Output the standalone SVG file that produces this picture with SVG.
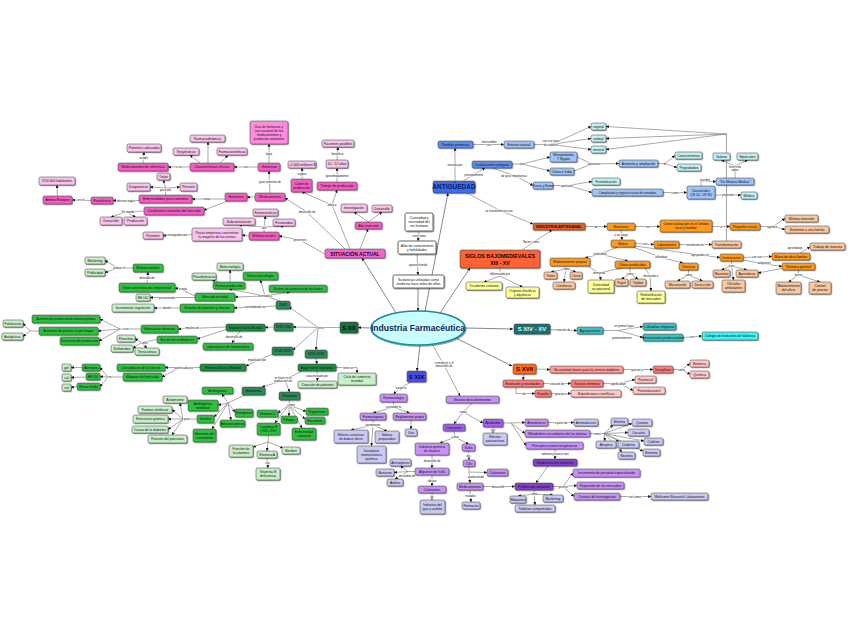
<svg xmlns="http://www.w3.org/2000/svg" width="848" height="638" viewBox="0 0 848 638">
<defs>
<filter id="sh" x="-20%" y="-30%" width="150%" height="180%"><feDropShadow dx="0.8" dy="0.9" stdDeviation="0.45" flood-color="#000" flood-opacity="0.45"/></filter>
<marker id="ar" viewBox="0 0 10 10" refX="9.5" refY="5" markerWidth="3" markerHeight="3" markerUnits="userSpaceOnUse" orient="auto"><path d="M0,0 L10,5 L0,10 z" fill="#111"/></marker>
<style>
rect{stroke:#3a3a3a;stroke-width:.5;filter:url(#sh)}
text{font-family:"Liberation Sans",Arial,sans-serif;text-anchor:middle;fill:#111}
.t{font-size:3.4px}
.ts{font-size:3.05px}
.m{font-weight:bold}
.lb{font-size:2.9px;fill:#111;stroke:#fff;stroke-width:1.1px;paint-order:stroke}
#connectors path{fill:none;stroke:#858585;stroke-width:.7}
#connectors path.a{marker-end:url(#ar)}
#connectors path.big{stroke:#7a7a7a;stroke-width:.9}
#connectors path.vt{stroke:#a8a8a8;stroke-width:1.1}
.b1{fill:#3e6de6}.b2{fill:#5b8ef4}.b3{fill:#9dc3f7}.cy{fill:#c2f0f0}
.or1{fill:#e4642a}.or{fill:#ff9a1a}.lo{fill:#f9c7a0}.ye{fill:#ffff99}.rd{fill:#ff6436}
.tl1{fill:#1f7070}.tl{fill:#3cc2c2}.cb{fill:#3ef5f5}
.so{fill:#ff6a10}.sa{fill:#ff9c9c}.sa2{fill:#ff7d7d}.pk{fill:#ffc9c9}
.sx{fill:#4a4ee6}.pu{fill:#c690f7}.dpu{fill:#a062ec}.vpu{fill:#8240cf}.lv{fill:#c9c9f3}
.g0{fill:#1d6e3e}.gm{fill:#2b8a55}.gd{fill:#1f8f46}.gb{fill:#2fbf3f}.gl{fill:#c8efc8}
.hp0{fill:#f266cf}.hp{fill:#f35cc2}.mp{fill:#ff8ade}.lp{fill:#f8c4ec}
.wh{fill:#fff;stroke:#555;stroke-width:.9}
</style>
</defs>
<rect x="0" y="0" width="848" height="638" fill="#fff" style="stroke:none;filter:none"/>

<g id="connectors">
<!-- main -->
<path class="a big" d="M425,311 L448,193"/>
<path class="a big" d="M440,313 L470,268"/>
<path class="a big" d="M465,328 L513,329"/>
<path class="a big" d="M456,338 L512,366"/>
<path class="a big" d="M420,345 L417,371"/>
<path class="a big" d="M371,328 L358,327.5"/>
<path class="a big" d="M396,313 L362,258"/>
<path class="a big" d="M418,288 L418,311"/>
<path class="a" d="M432,344 L444,365 L460,396"/>
<text class="lb" x="444" y="363.5">contribuyó a el</text><text class="lb" x="444" y="367">desarrollo de</text>
<!-- antiguedad -->
<path class="a" d="M455,181 L455,148"/><text class="lb" x="455" y="166">iniciada por</text>
<path class="a" d="M473,144.5 L504,144.5"/><text class="lb" x="489" y="142.5">intercambio</text><text class="lb" x="489" y="146">con</text>
<path d="M534,144.5 L551,144.5"/><path class="a" d="M551,144.5 L591,126.5"/><path class="a" d="M551,144.5 L591,138.5"/><path class="a" d="M551,144.5 L591,149.5"/>
<text class="lb" x="551" y="142">con sus tipos</text><text class="lb" x="551" y="145.5">de saberes</text>
<path class="a" d="M463,181 L485,168"/><text class="lb" x="474" y="175.5">principalmente</text>
<path d="M512,164 L522,164"/><path class="a" d="M522,164 L550,157"/><path class="a" d="M522,164 L550,171"/><text class="lb" x="522" y="165">como</text>
<path class="a" d="M492,168 L516,176 L533,185.5"/><text class="lb" x="514" y="177">de gran importancia</text>
<path d="M577,157 L592,164"/><path d="M574,171 L592,164"/><path class="a" d="M592,164 L619,163.5"/><text class="lb" x="594" y="165">aportaron</text>
<path d="M553,185.5 L568,185.5"/><path class="a" d="M568,185.5 L592,181.5"/><path class="a" d="M568,185.5 L592,192.5"/><text class="lb" x="567" y="186.5">aportaron</text>
<path d="M658,163.5 L665,163.5"/><path class="a" d="M665,163.5 L675,155.5"/><path class="a" d="M665,163.5 L677,167.5"/><text class="lb" x="665" y="164.5">de</text>
<path class="a" d="M663,192.5 L687,192.5"/><text class="lb" x="675" y="193.5">como</text>
<path class="a" d="M701,186 L701,181.5 L716,181.5"/><text class="lb" x="705" y="180.5">escribió</text>
<path class="a" d="M715,195 L741,195"/><text class="lb" x="728" y="196">profesión</text>
<path class="vt" d="M726.5,241 L726.5,134"/>
<path class="a" d="M726.5,134 L606,126.5"/><path class="a" d="M726.5,134 L606,138.5"/><path class="a" d="M726.5,134 L606,149.5"/>
<path d="M735,178 L735,166"/><path class="a" d="M735,166 L721.5,160"/><path class="a" d="M735,166 L747.5,160"/>
<text class="lb" x="735" y="167.5">fuente de</text><text class="lb" x="735" y="171">saber</text>
<!-- artesanal -->
<path class="a" d="M467,193 L499,210 L533,224"/><text class="lb" x="499" y="211.5">se transformó en una</text>
<path class="a" d="M585,226.5 L607,226.5"/><text class="lb" x="596" y="227.5">de</text>
<path class="a" d="M635,226.5 L660,226.5"/><text class="lb" x="648" y="227.5">en</text>
<path class="a" d="M712,226.5 L730,226.5"/><text class="lb" x="721" y="227.5">a</text>
<path d="M760,226.5 L773,226.5"/><path class="a" d="M773,226.5 L785,218.5"/><path class="a" d="M773,226.5 L785,229.5"/><text class="lb" x="772" y="227.5">significó</text>
<path class="a" d="M621,230 L622,240"/><text class="lb" x="621" y="236">a su cargo</text>
<path class="a" d="M635,243.5 L654,244.5"/><text class="lb" x="645" y="245">con</text>
<path class="a" d="M679,244.5 L712,244.5"/><text class="lb" x="695" y="245.5">transforma en</text>
<path class="a" d="M522,250 L552,230"/><text class="lb" x="531" y="243">Nacen como</text>
<path d="M618,247 L600,254"/><path class="a" d="M600,254 L585,258"/><path class="a" d="M600,254 L628,261"/><text class="lb" x="600" y="254.5">realizaban</text>
<path class="a" d="M633,247 L663,258 L683,263"/><text class="lb" x="661" y="258">utilizaban</text>
<path class="a" d="M635,246 L700,255 L720,257.5"/><text class="lb" x="700" y="255.5">agrupados en</text>
<path d="M566,266 L566,269"/><path class="a" d="M566,269 L551,272"/><path class="a" d="M566,269 L576,272"/><path class="a" d="M566,269 L564,282"/><text class="lb" x="566" y="269.8">como</text>
<path d="M588,266 L599,273"/><path d="M622,268 L599,273"/><path class="a" d="M599,273 L601,280"/><text class="lb" x="599" y="273.8">formando</text>
<path d="M630,268 L630,274"/><path class="a" d="M630,274 L621.5,279"/><path class="a" d="M630,274 L638,279"/><text class="lb" x="630" y="274.8">como</text>
<path class="a" d="M645,268 L650,276 L651,291"/><text class="lb" x="651" y="277">destinado a</text>
<path d="M688.5,270 L688.5,275"/><path class="a" d="M688.5,275 L677.5,281"/><path class="a" d="M688.5,275 L702.5,281"/><text class="lb" x="688.5" y="275.8">como</text>
<path class="a" d="M743,257.5 L772,256.5"/><text class="lb" x="757" y="258">con sus</text>
<path class="a" d="M800,253 L810,247"/><text class="lb" x="795" y="248.5">aprendizaje</text>
<path d="M731.5,261 L731.5,266"/><path class="a" d="M731.5,266 L721.5,270"/><path class="a" d="M731.5,266 L747,270"/><path class="a" d="M731.5,266 L733.5,280"/><text class="lb" x="731.5" y="266.8">eran</text>
<path class="a" d="M743,260 L765,264 L782,266.5"/><text class="lb" x="764" y="264">adoptaron</text>
<path class="a" d="M782,268.5 L758,273"/>
<path d="M798.5,270 L798.5,275"/><path class="a" d="M798.5,275 L788.5,282"/><path class="a" d="M798.5,275 L820,282"/><text class="lb" x="798.5" y="275.8">ejerce</text>
<path d="M500,268 L500,276"/><path class="a" d="M500,276 L484,282"/><path class="a" d="M500,276 L522.5,287"/><text class="lb" x="500" y="275">Influenciado por</text>
<!-- teal -->
<path class="a" d="M550,329.5 L577,330.5"/><text class="lb" x="563" y="331">creación de</text>
<path d="M603,330.5 L618,330.5"/><path class="a" d="M618,330.5 L643,326.5"/><path class="a" d="M618,330.5 L643,337.5"/>
<text class="lb" x="624" y="327">en primer lugar</text><text class="lb" x="622" y="339">posteriormente</text>
<path class="a" d="M683,337.5 L702,336"/><text class="lb" x="692" y="337.8">con</text>
<!-- S XVII -->
<path class="a" d="M536,369 L550,369.5"/>
<path class="a" d="M623,369.5 L653,369.5"/><text class="lb" x="637" y="370.5">gracias a</text>
<path d="M673,369.5 L682,369.5"/><path class="a" d="M682,369.5 L690,363.5"/><path class="a" d="M682,369.5 L690,374.5"/><text class="lb" x="681" y="370.5">como</text>
<path class="a" d="M524,374 L523,380"/>
<path class="a" d="M543,383.5 L571,383.5"/><text class="lb" x="557" y="384.5">creación de</text>
<path d="M603,383.5 L620,383.5"/><path class="a" d="M620,383.5 L635,379.5"/><path class="a" d="M620,383.5 L633,390.5"/><text class="lb" x="618" y="384.5">significaban</text>
<path class="a" d="M516,387 L516,393.5 L535,393.5"/><text class="lb" x="524" y="394.5">de</text>
<path class="a" d="M551,393.5 L571,393.5"/><text class="lb" x="561" y="394.5">gracias a</text>
<!-- S XIX -->
<path class="a" d="M411,382 L400,388 L393.5,394"/><text class="lb" x="401" y="388.5">surgió la</text>
<path d="M393.5,402 L393.5,407"/><path class="a" d="M393.5,407 L373,413"/><path class="a" d="M393.5,407 L409.5,413"/><text class="lb" x="393.5" y="407.8">consolidó la</text>
<path d="M373,420 L373,425"/><path class="a" d="M373,425 L351,430"/><path class="a" d="M373,425 L387,431"/><path class="a" d="M373,425 L371.5,446"/><text class="lb" x="373" y="425.8">permitieron</text>
<path class="a" d="M411,420 L411,429"/>
<path d="M472.5,403 L463,412"/><path class="a" d="M463,412 L454,424"/><path class="a" d="M463,412 L483,423"/><text class="lb" x="463" y="412.8">como</text>
<path class="a" d="M493,427 L493,433"/><text class="lb" x="493" y="431">con</text>
<path d="M454,431 L455,437"/><path class="a" d="M455,437 L440,443"/><path class="a" d="M455,437 L468.5,444"/><text class="lb" x="455" y="437.8">como</text>
<path class="a" d="M468.5,451 L469,460"/><text class="lb" x="468.5" y="456.5">dio</text>
<path class="a" d="M432,455 L432,468"/><text class="lb" x="432" y="462">desarrollo de</text>
<path d="M415,471.5 L408,471.5"/><path class="a" d="M408,471.5 L400.5,466"/><path class="a" d="M408,471.5 L394,472.5"/><path class="a" d="M408,471.5 L395,479"/><text class="lb" x="407" y="476.5">derivados de</text>
<path class="a" d="M432,475 L432,486"/><text class="lb" x="432" y="481.5">obtuvo</text>
<path class="a" d="M432,493 L432,500"/><text class="lb" x="432" y="497.5">de</text>
<path d="M469,466.5 L469,472"/><path class="a" d="M469,472 L487,472.5"/><path class="a" d="M469,472 L470,483"/><text class="lb" x="476" y="477.5">produciendo</text>
<path class="a" d="M470,490 L471,502"/><text class="lb" x="470.5" y="497">tratados</text>
<path class="a" d="M483,486.5 L515,486.5"/><text class="lb" x="498" y="487.5">desarrolló</text>
<path class="a" d="M555,449 L555,459"/><text class="lb" x="555" y="455">además provocó una</text>
<path class="a" d="M548,466 L536,483"/>
<path d="M534,490 L534,494"/><path class="a" d="M534,494 L518,496"/><path class="a" d="M534,494 L553,495"/><path class="a" d="M534,494 L535,505"/><text class="lb" x="534" y="494.8">como</text>
<path d="M553,486.5 L563,486.5"/><path class="a" d="M563,486.5 L573,473"/><path class="a" d="M563,486.5 L577,485.5"/><path class="a" d="M563,486.5 L574,496.5"/><text class="lb" x="563" y="487.5">generó</text>
<path class="a" d="M620,496.5 L651,496.5"/><text class="lb" x="635" y="497.5">así como</text>
<path d="M503,423 L511,423"/><path class="a" d="M511,423 L525,422.5"/><path class="a" d="M511,423 L525,433.5"/><path class="a" d="M511,423 L526,445.5"/>
<path class="a" d="M548,422.5 L574,422.5"/><text class="lb" x="561" y="423.5">a partir de</text>
<path d="M590,433.5 L604,433.5"/>
<path class="a" d="M604,433.5 L613,425"/><path class="a" d="M604,433.5 L632,423.5"/><path class="a" d="M604,433.5 L628,432.5"/><path class="a" d="M604,433.5 L644,441"/><path class="a" d="M604,433.5 L605,441"/><path class="a" d="M604,433.5 L619,441.5"/><path class="a" d="M604,433.5 L643,451"/><path class="a" d="M604,433.5 L622,452"/>
<text class="lb" x="597" y="434.5">como</text>
<!-- S XX -->
<path d="M340,327.5 L318,327.5"/><path class="a" d="M318,327.5 L289,307"/><path class="a" d="M318,327.5 L293,327"/><path class="a" d="M318,327.5 L293,350"/><path class="a" d="M318,327.5 L316,350"/><text class="lb" x="321" y="328.5">entre</text>
<path d="M280,301 L265,296"/><path class="a" d="M265,296 L235,297"/><path class="a" d="M265,296 L229,289"/><path class="a" d="M265,296 L260.5,280"/><path class="a" d="M265,296 L290,292"/><text class="lb" x="265" y="297">orientado a</text>
<path class="a" d="M276,306 L234,308"/><text class="lb" x="255" y="308">consolidando así</text>
<path class="a" d="M274,327 L265,327.5"/>
<path class="a" d="M240,331 L232,343"/><text class="lb" x="234" y="337.5">desarrollo de</text>
<path class="a" d="M226,327 L178,329"/><text class="lb" x="192" y="329">impulso de</text>
<path class="a" d="M226,329.5 L197,339"/>
<path d="M141,329 L120,329"/><path class="a" d="M120,329 L100,319"/><path class="a" d="M120,329 L98,331"/><path class="a" d="M120,329 L99,341"/><text class="lb" x="126" y="330">tuvo</text>
<path d="M39,331 L30,331"/><path class="a" d="M30,331 L23,323.5"/><path class="a" d="M30,331 L23,336.5"/>
<path d="M157,339.5 L141,342.5"/><path class="a" d="M141,342.5 L135,338.5"/><path class="a" d="M141,342.5 L133,348.5"/><path class="a" d="M141,342.5 L147,348"/><text class="lb" x="144" y="343.5">como</text>
<path d="M133,268 L118,268"/><path class="a" d="M118,268 L105,260.5"/><path class="a" d="M118,268 L105,272.5"/><text class="lb" x="119" y="269">utilizan el</text>
<path class="a" d="M147,283 L148,272"/><text class="lb" x="147" y="279">derivado de</text>
<path class="a" d="M195,296 L180,289 L175,288"/><text class="lb" x="183" y="290">surgió</text>
<path class="a" d="M195,297.5 L150,297.5"/><text class="lb" x="167" y="298.5">presentando</text>
<path class="a" d="M180,308 L154,308"/><text class="lb" x="167" y="309">dando</text>
<path class="a" d="M230,282 L230,270"/>
<path class="a" d="M219,282 L212,280"/>
<path class="a" d="M273,354 L254,362 L246,366"/><text class="lb" x="257" y="360.5">impulsado por</text>
<path d="M200,367.5 L180,367.5"/><path class="a" d="M180,367.5 L165,367.5"/><path class="a" d="M180,367.5 L162,377"/><text class="lb" x="184" y="368.5">potenciada por</text>
<path d="M123,377 L108,377"/><path class="a" d="M108,377 L100,367.5"/><path class="a" d="M108,377 L100,376.5"/><path class="a" d="M108,377 L100,386.5"/><text class="lb" x="110" y="378">en</text>
<path class="a" d="M82,367.5 L71,367.5"/><path class="a" d="M86,377 L71,377.5"/><path class="a" d="M77,386.5 L71,387.5"/>
<path class="a" d="M316,358 L317,364"/>
<path class="a" d="M336,367.5 L357,367.5 L357,373"/><text class="lb" x="348" y="368.5">tiene un</text>
<path class="a" d="M317,371 L317.5,381"/><text class="lb" x="317" y="377">caracterizado por</text>
<path d="M302,371 L285,380"/><path class="a" d="M285,380 L262,387"/><path class="a" d="M285,380 L289.5,392"/><text class="lb" x="283" y="378.5">se basó en la</text><text class="lb" x="283" y="382">producción de</text>
<path d="M245,395 L228,403"/><path class="a" d="M228,403 L222,394"/><path class="a" d="M228,403 L218,405"/><path class="a" d="M228,403 L214,417"/><path class="a" d="M228,403 L212,429"/><path class="a" d="M228,403 L235,412"/><path class="a" d="M228,403 L231,420"/>
<path d="M197,419 L183,419"/><path class="a" d="M183,419 L180,403"/><path class="a" d="M183,419 L172,409.5"/><path class="a" d="M183,419 L168,419"/><path class="a" d="M183,419 L168,429.5"/><path class="a" d="M183,419 L172,435"/><text class="lb" x="187" y="420">para</text>
<path d="M289.5,400 L289,405"/><path class="a" d="M289,405 L278,413"/><path class="a" d="M289,405 L289,416"/><path class="a" d="M289,405 L306,411.5"/><path class="a" d="M289,405 L305,419"/><path class="a" d="M289,405 L302,428"/><path class="a" d="M289,405 L275,423"/><text class="lb" x="291" y="406">como</text>
<path d="M268.5,435 L268,442"/><path class="a" d="M268,442 L253,447"/><path class="a" d="M268,442 L267,451"/><path class="a" d="M268,442 L283,448"/>
<path class="a" d="M267,458 L268,468"/><text class="lb" x="267.5" y="464">sus</text>
<!-- situacion actual -->
<path class="a" d="M345,249 L307,212 L285,198"/><text class="lb" x="307" y="212.5">desarrollo de</text>
<path class="a" d="M270,193 L269,171"/><text class="lb" x="270" y="183">gran aumento de</text>
<path class="a" d="M269,163 L269,144"/><text class="lb" x="269" y="154.5">logra</text>
<path class="a" d="M258,167 L234,167"/><text class="lb" x="246" y="168">con</text>
<path class="a" d="M208,163 L208,142"/><path class="a" d="M200,163 L190,155"/><path class="a" d="M220,163 L228,155.5"/>
<path class="a" d="M190,167 L168,167"/><text class="lb" x="179" y="168">a su</text>
<path class="a" d="M143,163 L144,152"/><text class="lb" x="143.5" y="158.5">surtido</text>
<path class="a" d="M255,197 L247,197"/>
<path class="a" d="M225,199 L192,199"/><text class="lb" x="207" y="200">tratan</text>
<path d="M165.5,195 L165.5,188"/><path class="a" d="M165.5,188 L163.5,180"/><path class="a" d="M165.5,188 L150,187"/><path class="a" d="M165.5,188 L180,187"/><text class="lb" x="165.5" y="191">para ello</text>
<path class="a" d="M139,200.5 L113,200.5"/><text class="lb" x="126" y="201.5">afectan según</text>
<path class="a" d="M91,200.5 L72,200"/><text class="lb" x="81" y="201.2">en el</text>
<path class="a" d="M57.5,196 L57,185"/>
<path class="a" d="M228,201 L204,210"/>
<path d="M144,211 L126,212"/><path class="a" d="M126,212 L111,217"/><path class="a" d="M126,212 L135.5,217"/><text class="lb" x="128" y="212.5">Se impide</text>
<path class="a" d="M325,254 L300,240 L279,236"/><text class="lb" x="300" y="240.5">presentes</text>
<path d="M264,232 L264,227"/><path class="a" d="M264,227 L265.5,216"/><path class="a" d="M264,227 L239,225"/><path class="a" d="M264,227 L284,226"/><text class="lb" x="264" y="229">son</text>
<path class="a" d="M249,236 L242,235"/>
<path class="a" d="M192,234.5 L163,235.5"/><text class="lb" x="177" y="235.5">conseguidas por</text>
<path class="a" d="M302,179 L302,168"/><text class="lb" x="302" y="174.5">supera</text>
<path class="a" d="M337,182 L337,168"/><text class="lb" x="337" y="176.5">aproximadamente</text>
<path class="a" d="M337,160 L338,147"/><text class="lb" x="337.5" y="154.5">beneficia</text>
<path d="M350,249 L332,205"/><path class="a" d="M332,205 L302,192"/><path class="a" d="M332,205 L337,190"/><text class="lb" x="332" y="206">abarca</text>
<path class="a" d="M360,249 L368,229"/>
<path class="a" d="M368.5,222 L354,212"/><path class="a" d="M368.5,222 L382,212"/>
<!-- gray -->
<path class="a" d="M419,231 L418,241"/><text class="lb" x="419" y="237">tuvo como</text>
<path class="a" d="M417,254 L418,275"/><text class="lb" x="418" y="266">aprovechando</text>
</g>

<g id="center"><ellipse cx="418" cy="328" rx="47" ry="17" fill="#c8ffff" stroke="#1b8c9c" stroke-width="1.6" filter="url(#sh)"/><text x="418" y="331" style="font-size:8.6px;font-weight:bold;fill:#1a2457">Industria Farmacéutica</text></g>

<g id="k1"><rect class="wh" x="405" y="213" width="28" height="18" rx="1.5"/><text class="t" x="419" y="219.3">Curiosidad y</text><text class="t" x="419" y="223.2">necesidad del</text><text class="t" x="419" y="227.1">ser humano</text></g>
<g id="k2"><rect class="wh" x="398" y="241" width="38" height="13" rx="1.5"/><text class="t" x="417" y="246.8">Afán de conocimiento</text><text class="t" x="417" y="250.7">y habilidades</text></g>
<g id="k3"><rect class="wh" x="393" y="275" width="51" height="13" rx="1.5"/><text class="t" x="418.5" y="280.8">Sustancias utilizadas como</text><text class="t" x="418.5" y="284.7">medicina hace miles de años</text></g>

<g id="a0"><rect class="b1" x="433" y="181" width="42" height="12" rx="1.8"/><text x="454" y="189.3" class="m" style="font-size:6.5px;fill:#0b1a66">ANTIGÜEDAD</text></g>
<g id="a1"><rect class="b2" x="438" y="141" width="35" height="7" rx="1.5"/><text class="t" x="455.5" y="145.8">Pueblos primitivos</text></g>
<g id="a2"><rect class="b3" x="504" y="141" width="30" height="7" rx="1.5"/><text class="t" x="519" y="145.8">Entorno natural</text></g>
<g id="a3"><rect class="cy" x="591" y="123" width="15" height="7" rx="1.5"/><text class="t" x="598.5" y="127.8">vegetal</text></g>
<g id="a4"><rect class="cy" x="591" y="135" width="15" height="7" rx="1.5"/><text class="t" x="598.5" y="139.8">animal</text></g>
<g id="a5"><rect class="cy" x="591" y="146" width="15" height="7" rx="1.5"/><text class="t" x="598.5" y="150.8">mineral</text></g>
<g id="a6"><rect class="b2" x="472" y="161" width="40" height="7" rx="1.5"/><text class="t" x="492" y="165.8">Civilizaciones antiguas</text></g>
<g id="a7"><rect class="b3" x="550" y="152" width="27" height="10" rx="1.5"/><text class="t" x="563.5" y="156.2">Mesopotamia</text><text class="t" x="563.5" y="160.1">Y Egipto</text></g>
<g id="a8"><rect class="b3" x="550" y="168" width="24" height="7" rx="1.5"/><text class="t" x="562" y="172.8">China e India</text></g>
<g id="a9"><rect class="b3" x="533" y="182" width="20" height="7" rx="1.5"/><text class="ts" x="543" y="186.7">Grecia y Roma</text></g>
<g id="a10"><rect class="b3" x="619" y="160" width="39" height="7" rx="1.5"/><text class="t" x="638.5" y="164.8">Aumento y ampliación</text></g>
<g id="a11"><rect class="cy" x="675" y="152" width="27" height="7" rx="1.5"/><text class="t" x="688.5" y="156.8">Conocimientos</text></g>
<g id="a12"><rect class="cy" x="677" y="164" width="24" height="7" rx="1.5"/><text class="t" x="689" y="168.8">Propiedades</text></g>
<g id="a13"><rect class="cy" x="592" y="178" width="28" height="7" rx="1.5"/><text class="t" x="606" y="182.8">Formalización</text></g>
<g id="a14"><rect class="b3" x="592" y="189" width="71" height="7" rx="1.5"/><text class="ts" x="627.5" y="193.7">Compilación y registro escrito de remedios</text></g>
<g id="a15"><rect class="b3" x="687" y="186" width="28" height="13" rx="1.5"/><text class="t" x="701" y="191.8">Dioscórides</text><text class="ts" x="701" y="195.7">(CE 40 - CE 90)</text></g>
<g id="a16"><rect class="b3" x="716" y="178" width="38" height="7" rx="1.5"/><text class="t" x="735" y="182.8">“De Materia Médica”</text></g>
<g id="a17"><rect class="cy" x="741" y="192" width="16" height="7" rx="1.5"/><text class="t" x="749" y="196.8">Médico</text></g>
<g id="a18"><rect class="cy" x="713" y="153" width="17" height="7" rx="1.5"/><text class="t" x="721.5" y="157.8">Galeno</text></g>
<g id="a19"><rect class="cy" x="737" y="153" width="21" height="7" rx="1.5"/><text class="t" x="747.5" y="157.8">Hipócrates</text></g>

<g id="b0"><rect class="or1" x="533" y="223" width="52" height="7" rx="1.2"/><text class="m" x="559" y="228.1" style="font-size:3.9px;fill:#2a0500">INDUSTRIA ARTESANAL</text></g>
<g id="b1"><rect class="or" x="607" y="223" width="28" height="7" rx="1.5"/><text class="t" x="621" y="227.8">Boticarios</text></g>
<g id="b2"><rect class="or" x="660" y="220" width="52" height="12" rx="1.5"/><text class="t" x="686" y="225.2">Comercialización en el ámbito</text><text class="t" x="686" y="229.1">local y familiar</text></g>
<g id="b3"><rect class="or" x="730" y="223" width="30" height="7" rx="1.5"/><text class="t" x="745" y="227.8">Pequeña escala</text></g>
<g id="b4"><rect class="lo" x="785" y="215" width="33" height="7" rx="1.5"/><text class="t" x="801.5" y="219.8">Mínima inversión</text></g>
<g id="b5"><rect class="lo" x="785" y="226" width="44" height="7" rx="1.5"/><text class="t" x="807" y="230.8">Sustentar a una familia</text></g>
<g id="b6"><rect class="or" x="611" y="240" width="24" height="7" rx="1.5"/><text class="t" x="623" y="244.8">Botica</text></g>
<g id="b7"><rect class="or" x="654" y="241" width="25" height="7" rx="1.5"/><text class="t" x="666.5" y="245.8">Laboratorios</text></g>
<g id="b8"><rect class="lo" x="712" y="241" width="29" height="7" rx="1.5"/><text class="t" x="726.5" y="245.8">Transformación</text></g>
<g id="b9"><rect class="or" x="550" y="258" width="40" height="8" rx="1.5"/><text class="t" x="570" y="263.3">Elaboraciones propias</text></g>
<g id="b10"><rect class="or" x="615" y="261" width="35" height="7" rx="1.5"/><text class="t" x="632.5" y="265.8">Obras producidas</text></g>
<g id="b11"><rect class="lo" x="544" y="272" width="13" height="7" rx="1.5"/><text class="t" x="550.5" y="276.8">Tintes</text></g>
<g id="b12"><rect class="lo" x="570" y="272" width="12" height="7" rx="1.5"/><text class="t" x="576" y="276.8">Ceras</text></g>
<g id="b13"><rect class="lo" x="553" y="282" width="22" height="7" rx="1.5"/><text class="t" x="564" y="286.8">Confituras</text></g>
<g id="b14"><rect class="ye" x="588" y="280" width="26" height="13" rx="1.5"/><text class="t" x="601" y="285.8">Diversidad</text><text class="t" x="601" y="289.7">ocupacional</text></g>
<g id="b15"><rect class="lo" x="615" y="279" width="13" height="7" rx="1.5"/><text class="t" x="621.5" y="283.8">Papel</text></g>
<g id="b16"><rect class="lo" x="630" y="279" width="16" height="7" rx="1.5"/><text class="t" x="638" y="283.8">Tejidos</text></g>
<g id="b17"><rect class="ye" x="637" y="291" width="28" height="12" rx="1.5"/><text class="t" x="651" y="296.2">Redistribución</text><text class="t" x="651" y="300.1">de mercados</text></g>
<g id="b18"><rect class="or" x="679" y="263" width="19" height="7" rx="1.5"/><text class="t" x="688.5" y="267.8">Técnicas</text></g>
<g id="b19"><rect class="lo" x="665" y="281" width="25" height="7" rx="1.5"/><text class="t" x="677.5" y="285.8">Maceración</text></g>
<g id="b20"><rect class="lo" x="692" y="281" width="21" height="7" rx="1.5"/><text class="t" x="702.5" y="285.8">Decocción</text></g>
<g id="b21"><rect class="or" x="720" y="254" width="23" height="7" rx="1.5"/><text class="t" x="731.5" y="258.8">Instituciones</text></g>
<g id="b22"><rect class="or" x="772" y="253" width="38" height="7" rx="1.5"/><text class="t" x="791" y="257.8">Mano de obra familiar</text></g>
<g id="b23"><rect class="lo" x="810" y="243" width="35" height="7" rx="1.5"/><text class="t" x="827.5" y="247.8">Trabajo de maestro</text></g>
<g id="b24"><rect class="lo" x="713" y="270" width="17" height="7" rx="1.5"/><text class="t" x="721.5" y="274.8">Maestros</text></g>
<g id="b25"><rect class="lo" x="736" y="270" width="22" height="7" rx="1.5"/><text class="t" x="747" y="274.8">Aprendices</text></g>
<g id="b26"><rect class="lo" x="722" y="280" width="23" height="12" rx="1.5"/><text class="t" x="733.5" y="285.2">Oficiales</text><text class="t" x="733.5" y="289.1">ambulantes</text></g>
<g id="b27"><rect class="or" x="782" y="263" width="33" height="7" rx="1.5"/><text class="t" x="798.5" y="267.8">“Sistema gremial”</text></g>
<g id="b28"><rect class="lo" x="776" y="282" width="25" height="12" rx="1.5"/><text class="t" x="788.5" y="287.2">Mantenimiento</text><text class="t" x="788.5" y="291.1">del oficio</text></g>
<g id="b29"><rect class="lo" x="809" y="282" width="22" height="12" rx="1.5"/><text class="t" x="820" y="287.2">Control</text><text class="t" x="820" y="291.1">de precios</text></g>

<g id="c0"><rect class="rd" x="460" y="250" width="80" height="18" rx="1.5"/><text class="m" x="500" y="257.6" style="font-size:5.3px;fill:#220000">SIGLOS BAJOMEDIEVALES</text><text class="m" x="500" y="264.6" style="font-size:5.3px;fill:#220000">XIII - XV</text></g>
<g id="c1"><rect class="ye" x="466" y="282" width="36" height="8" rx="1.5"/><text class="t" x="484" y="287.3">Occidente cristiano</text></g>
<g id="c2"><rect class="ye" x="506" y="287" width="33" height="11" rx="1.5"/><text class="ts" x="522.5" y="291.7">Orígenes filosóficos</text><text class="ts" x="522.5" y="295.5">y alquímicos</text></g>

<g id="d0"><rect class="tl1" x="514" y="324" width="36" height="10" rx="1.5"/><text class="m" x="532" y="331.2" style="font-size:6px;fill:#d8ffff">S XIV - XV</text></g>
<g id="d1"><rect class="tl" x="577" y="327" width="26" height="7" rx="1.5"/><text class="t" x="590" y="331.8">Agrupaciones</text></g>
<g id="d2"><rect class="tl" x="643" y="323" width="33" height="7" rx="1.5"/><text class="t" x="659.5" y="327.8">Cofradías religiosas</text></g>
<g id="d3"><rect class="tl" x="643" y="334" width="40" height="7" rx="1.5"/><text class="t" x="663" y="338.8">Asociaciones profesionales</text></g>
<g id="d4"><rect class="cb" x="702" y="332" width="56" height="8" rx="1.5"/><text class="t" x="730" y="337.3">Colegio de boticarios de Valencia</text></g>

<g id="e0"><rect class="so" x="513" y="364" width="23" height="10" rx="1.5"/><text class="m" x="524.5" y="371.2" style="font-size:6px;fill:#200">S XVII</text></g>
<g id="e1"><rect class="sa" x="550" y="366" width="73" height="7" rx="1.5"/><text class="t" x="586.5" y="370.8">Se asientan bases para la ciencia moderna</text></g>
<g id="e2"><rect class="sa2" x="653" y="366" width="20" height="7" rx="1.5"/><text class="t" x="663" y="370.8">Disciplinas</text></g>
<g id="e3"><rect class="pk" x="690" y="360" width="19" height="7" rx="1.5"/><text class="t" x="699.5" y="364.8">Botánica</text></g>
<g id="e4"><rect class="pk" x="690" y="371" width="19" height="7" rx="1.5"/><text class="t" x="699.5" y="375.8">Química</text></g>
<g id="e5"><rect class="sa2" x="503" y="380" width="40" height="7" rx="1.5"/><text class="t" x="523" y="384.8">Evolución y novedades</text></g>
<g id="e6"><rect class="sa2" x="571" y="380" width="32" height="7" rx="1.5"/><text class="t" x="587" y="384.8">Nuevos términos</text></g>
<g id="e7"><rect class="pk" x="635" y="376" width="21" height="7" rx="1.5"/><text class="t" x="645.5" y="380.8">“Farmacia”</text></g>
<g id="e8"><rect class="pk" x="633" y="387" width="32" height="7" rx="1.5"/><text class="t" x="649" y="391.8">“Formulaciones”</text></g>
<g id="e9"><rect class="sa2" x="535" y="390" width="16" height="7" rx="1.5"/><text class="t" x="543" y="394.8">España</text></g>
<g id="e10"><rect class="pk" x="571" y="390" width="50" height="7" rx="1.5"/><text class="t" x="596" y="394.8">Expediciones científicas</text></g>

<g id="f0"><rect class="sx" x="407" y="371" width="19" height="11" rx="1.5"/><text class="m" x="416.5" y="378.6" style="font-size:6px;fill:#06063a">S XIX</text></g>
<g id="f1"><rect class="pu" x="380" y="394" width="27" height="8" rx="1.5"/><text class="t" x="393.5" y="399.3">Farmacología</text></g>
<g id="f2"><rect class="pu" x="360" y="413" width="26" height="7" rx="1.5"/><text class="t" x="373" y="417.8">Farmacopeas</text></g>
<g id="f3"><rect class="pu" x="393" y="413" width="33" height="7" rx="1.5"/><text class="t" x="409.5" y="417.8">Reglamento propio</text></g>
<g id="f4"><rect class="lv" x="334" y="430" width="34" height="13" rx="1.5"/><text class="ts" x="351" y="435.7">Eliminar sustancias</text><text class="ts" x="351" y="439.5">de dudoso efecto</text></g>
<g id="f5"><rect class="lv" x="375" y="431" width="24" height="12" rx="1.5"/><text class="t" x="387" y="436.2">Valorar</text><text class="t" x="387" y="440.1">preparados</text></g>
<g id="f6"><rect class="lv" x="357" y="446" width="29" height="17" rx="1.5"/><text class="t" x="371.5" y="451.8">Incorporar</text><text class="t" x="371.5" y="455.7">nomenclatura</text><text class="t" x="371.5" y="459.6">química</text></g>
<g id="f7"><rect class="lv" x="405" y="429" width="12" height="7" rx="1.5"/><text class="t" x="411" y="433.8">Uso</text></g>
<g id="f8"><rect class="pu" x="446" y="396" width="53" height="7" rx="1.5"/><text class="t" x="472.5" y="400.8">Nuevos descubrimientos</text></g>
<g id="f9"><rect class="dpu" x="443" y="424" width="22" height="7" rx="1.5"/><text class="t" x="454" y="428.8">Colorantes</text></g>
<g id="f10"><rect class="dpu" x="483" y="419" width="20" height="8" rx="1.5"/><text class="t" x="493" y="424.3">Alcaloides</text></g>
<g id="f11"><rect class="lv" x="483" y="433" width="24" height="12" rx="1.5"/><text class="t" x="495" y="438.2">Efectos</text><text class="t" x="495" y="442.1">psicoactivos</text></g>
<g id="f12"><rect class="pu" x="415" y="443" width="34" height="12" rx="1.5"/><text class="t" x="432" y="448.2">Industria química</text><text class="t" x="432" y="452.1">de alcance</text></g>
<g id="f13"><rect class="pu" x="462" y="444" width="13" height="7" rx="1.5"/><text class="t" x="468.5" y="448.8">Sulfa</text></g>
<g id="f14"><rect class="pu" x="463" y="460" width="12" height="6.5" rx="1.5"/><text class="t" x="469" y="464.5">Clin</text></g>
<g id="f15"><rect class="pu" x="415" y="468" width="34" height="7" rx="1.5"/><text class="t" x="432" y="472.8">Alquitrán de hulla</text></g>
<g id="f16"><rect class="lv" x="390" y="459" width="21" height="7" rx="1.5"/><text class="t" x="400.5" y="463.8">Antisépticos</text></g>
<g id="f17"><rect class="lv" x="376" y="469" width="18" height="7" rx="1.5"/><text class="t" x="385" y="473.8">Benceno</text></g>
<g id="f18"><rect class="lv" x="387" y="479" width="16" height="7" rx="1.5"/><text class="t" x="395" y="483.8">Anilina</text></g>
<g id="f19"><rect class="pu" x="418" y="486" width="28" height="7" rx="1.5"/><text class="t" x="432" y="490.8">Colorantes</text></g>
<g id="f20"><rect class="lv" x="420" y="500" width="25" height="14" rx="1.5"/><text class="t" x="432.5" y="506.2">Industria del</text><text class="t" x="432.5" y="510.1">gas y carbón</text></g>
<g id="f21"><rect class="pu" x="487" y="469" width="21" height="7" rx="1.5"/><text class="t" x="497.5" y="473.8">Colorantes</text></g>
<g id="f22"><rect class="pu" x="457" y="483" width="26" height="7" rx="1.5"/><text class="t" x="470" y="487.8">Medicamentos</text></g>
<g id="f23"><rect class="lv" x="462" y="502" width="18" height="7" rx="1.5"/><text class="t" x="471" y="506.8">Fármacos</text></g>
<g id="f24"><rect class="vpu" x="515" y="483" width="38" height="7" rx="1.5"/><text class="t" x="534" y="487.8">Producción industrial</text></g>
<g id="f25"><rect class="vpu" x="533" y="459" width="44" height="7" rx="1.5"/><text class="t" x="555" y="463.8">Modernización industrial</text></g>
<g id="f27"><rect class="lv" x="510" y="496" width="16" height="7" rx="1.5"/><text class="t" x="518" y="500.8">Máquinas</text></g>
<g id="f28"><rect class="lv" x="543" y="495" width="20" height="7" rx="1.5"/><text class="t" x="553" y="499.8">Marketing</text></g>
<g id="f29"><rect class="lv" x="515" y="505" width="40" height="7" rx="1.5"/><text class="t" x="535" y="509.8">Tabletas comprimidas</text></g>
<g id="f30"><rect class="pu" x="573" y="469" width="67" height="8" rx="1.5"/><text class="t" x="606.5" y="474.3">Incremento de personal especializado</text></g>
<g id="f31"><rect class="pu" x="577" y="482" width="47" height="7" rx="1.5"/><text class="t" x="600.5" y="486.8">Expansión de los mercados</text></g>
<g id="f32"><rect class="pu" x="574" y="493" width="46" height="7" rx="1.5"/><text class="t" x="597" y="497.8">Centros de Investigación</text></g>
<g id="f33"><rect class="lv" x="651" y="493" width="57" height="7" rx="1.5"/><text class="t" x="679.5" y="497.8">Wellcome Research Laboratories</text></g>
<g id="f34"><rect class="pu" x="525" y="419" width="23" height="7" rx="1.5"/><text class="t" x="536.5" y="423.8">Anestésicos</text></g>
<g id="f35"><rect class="lv" x="574" y="419" width="24" height="7" rx="1.5"/><text class="t" x="586" y="423.8">Antimaláricos</text></g>
<g id="f36"><rect class="pu" x="525" y="430" width="65" height="7" rx="1.5"/><text class="t" x="557.5" y="434.8">Metabolitos secundarios de las plantas</text></g>
<g id="f37"><rect class="pu" x="526" y="442" width="57" height="7" rx="1.5"/><text class="t" x="554.5" y="446.8">Principios activos terapéuticos</text></g>
<g id="f38"><rect class="lv" x="611" y="418" width="17" height="7" rx="1.5"/><text class="t" x="619.5" y="422.8">Morfina</text></g>
<g id="f39"><rect class="lv" x="632" y="419" width="20" height="7" rx="1.5"/><text class="t" x="642" y="423.8">Quinina</text></g>
<g id="f40"><rect class="lv" x="628" y="429" width="21" height="7" rx="1.5"/><text class="t" x="638.5" y="433.8">Cocaína</text></g>
<g id="f41"><rect class="lv" x="644" y="438" width="19" height="7" rx="1.5"/><text class="t" x="653.5" y="442.8">Cafeína</text></g>
<g id="f42"><rect class="lv" x="596" y="441" width="20" height="7" rx="1.5"/><text class="t" x="606" y="445.8">Atropina</text></g>
<g id="f43"><rect class="lv" x="618" y="441" width="21" height="7" rx="1.5"/><text class="t" x="628.5" y="445.8">Codeína</text></g>
<g id="f44"><rect class="lv" x="643" y="449" width="17" height="7" rx="1.5"/><text class="t" x="651.5" y="453.8">Emetina</text></g>
<g id="f45"><rect class="lv" x="618" y="452" width="17" height="7" rx="1.5"/><text class="t" x="626.5" y="456.8">Nicotina</text></g>

<g id="g0"><rect class="g0" x="340" y="322" width="18" height="11" rx="1.5"/><text class="m" x="349" y="329.6" style="font-size:6px;fill:#001500">S XX</text></g>
<g id="g1"><rect class="gm" x="276" y="301" width="14" height="8" rx="1.5"/><text class="t" x="283" y="306.3">1945</text></g>
<g id="g2"><rect class="gm" x="274" y="323" width="19" height="8" rx="1.5"/><text class="t" x="283.5" y="328.3">1939-1945</text></g>
<g id="g3"><rect class="gm" x="272" y="347" width="21" height="8" rx="1.5"/><text class="t" x="282.5" y="352.3">1918-1939</text></g>
<g id="g4"><rect class="gm" x="305" y="350" width="22" height="8" rx="1.5"/><text class="t" x="316" y="355.3">1900-1918</text></g>
<g id="g5"><rect class="gd" x="226" y="324" width="39" height="7" rx="1.5"/><text class="ts" x="245.5" y="328.7">Segunda Guerra Mundial</text></g>
<g id="g6"><rect class="gb" x="203" y="343" width="50" height="7" rx="1.5"/><text class="t" x="228" y="347.8">Laboratorios de Instituciones</text></g>
<g id="g7"><rect class="gb" x="141" y="325" width="37" height="8" rx="1.5"/><text class="t" x="159.5" y="330.3">Fabricación alemana</text></g>
<g id="g8"><rect class="gb" x="157" y="336" width="40" height="7" rx="1.5"/><text class="t" x="177" y="340.8">Era de los antibióticos</text></g>
<g id="g9"><rect class="gb" x="32" y="315" width="68" height="8" rx="1.5"/><text class="ts" x="66" y="320.2">Aumento de producción de materias primas</text></g>
<g id="g10"><rect class="gb" x="39" y="327" width="59" height="8" rx="1.5"/><text class="t" x="68.5" y="332.3">Aumento de precios al por mayor</text></g>
<g id="g11"><rect class="gb" x="60" y="337" width="39" height="8" rx="1.5"/><text class="t" x="79.5" y="342.3">Descenso de producción</text></g>
<g id="g12"><rect class="gl" x="3" y="320" width="20" height="7" rx="1.5"/><text class="ts" x="13" y="324.7">Falsificación</text></g>
<g id="g13"><rect class="gl" x="2" y="333" width="21" height="7" rx="1.5"/><text class="ts" x="12.5" y="337.7">Analgésicos</text></g>
<g id="g14"><rect class="gl" x="117" y="335" width="18" height="7" rx="1.5"/><text class="t" x="126" y="339.8">Penicilina</text></g>
<g id="g15"><rect class="gl" x="111" y="345" width="22" height="7" rx="1.5"/><text class="t" x="122" y="349.8">Sulfamidas</text></g>
<g id="g16"><rect class="gl" x="135" y="348" width="24" height="7" rx="1.5"/><text class="t" x="147" y="352.8">Tetraciclinas</text></g>
<g id="g17"><rect class="gb" x="133" y="264" width="30" height="8" rx="1.5"/><text class="t" x="148" y="269.3">Multinacionales</text></g>
<g id="g18"><rect class="gl" x="85" y="257" width="20" height="7" rx="1.5"/><text class="t" x="95" y="261.8">Marketing</text></g>
<g id="g19"><rect class="gl" x="85" y="269" width="20" height="7" rx="1.5"/><text class="t" x="95" y="273.8">Publicidad</text></g>
<g id="g20"><rect class="gb" x="119" y="283" width="56" height="9" rx="1.5"/><text class="t" x="147" y="288.8">Gran concentración empresarial</text></g>
<g id="g21"><rect class="gl" x="136" y="294" width="14" height="7" rx="1.5"/><text class="t" x="143" y="298.8">EE.UU</text></g>
<g id="g22"><rect class="gb" x="195" y="293" width="40" height="8" rx="1.5"/><text class="t" x="215" y="298.3">Mercado mundial</text></g>
<g id="g23"><rect class="gb" x="180" y="304" width="54" height="8" rx="1.5"/><text class="t" x="207" y="309.3">Sistema de patentes y marcas</text></g>
<g id="g24"><rect class="gl" x="112" y="304" width="42" height="8" rx="1.5"/><text class="t" x="133" y="309.3">Incrementar regulación</text></g>
<g id="g25"><rect class="gb" x="213" y="282" width="32" height="7" rx="1.5"/><text class="t" x="229" y="286.8">Nueva producción</text></g>
<g id="g26"><rect class="gb" x="243" y="272" width="35" height="8" rx="1.5"/><text class="t" x="260.5" y="277.3">Nueva tecnología</text></g>
<g id="g27"><rect class="gb" x="269" y="285" width="58" height="7" rx="1.5"/><text class="ts" x="298" y="289.7">Sistema de protección de facultades</text></g>
<g id="g28"><rect class="gl" x="217" y="263" width="26" height="7" rx="1.5"/><text class="t" x="230" y="267.8">Biotecnología</text></g>
<g id="g29"><rect class="gl" x="192" y="273" width="24" height="7" rx="1.5"/><text class="t" x="204" y="277.8">Psicofármacos</text></g>
<g id="g30"><rect class="gd" x="200" y="364" width="46" height="7" rx="1.5"/><text class="t" x="223" y="368.8">Primera Guerra Mundial</text></g>
<g id="g31"><rect class="gb" x="117" y="364" width="48" height="7" rx="1.5"/><text class="ts" x="141" y="368.7">Consolidación de la Industria</text></g>
<g id="g32"><rect class="gb" x="123" y="373" width="39" height="8" rx="1.5"/><text class="t" x="142.5" y="378.3">Bloqueo del mercado</text></g>
<g id="g33"><rect class="gb" x="82" y="364" width="18" height="7" rx="1.5"/><text class="t" x="91" y="368.8">Alemania</text></g>
<g id="g34"><rect class="gb" x="86" y="373" width="14" height="7" rx="1.5"/><text class="t" x="93" y="377.8">EE.UU</text></g>
<g id="g35"><rect class="gb" x="77" y="383" width="23" height="7" rx="1.5"/><text class="t" x="88.5" y="387.8">Reino Unido</text></g>
<g id="g36"><rect class="gl" x="62" y="364" width="9" height="7" rx="1.2"/><text class="t" x="66.5" y="368.8">gel</text></g>
<g id="g37"><rect class="gl" x="62" y="374" width="9" height="7" rx="1.2"/><text class="t" x="66.5" y="378.8">cal</text></g>
<g id="g38"><rect class="gl" x="62" y="384" width="9" height="7" rx="1.2"/><text class="t" x="66.5" y="388.8">cel</text></g>
<g id="g39"><rect class="gd" x="298" y="364" width="38" height="7" rx="1.5"/><text class="t" x="317" y="368.8">Auge fuerte industrial</text></g>
<g id="g40"><rect class="gl" x="338" y="373" width="38" height="12" rx="1.5"/><text class="t" x="357" y="378.2">Ciclo de comercio</text><text class="t" x="357" y="382.1">mundial</text></g>
<g id="g41"><rect class="gl" x="298" y="381" width="39" height="7" rx="1.5"/><text class="t" x="317.5" y="385.8">Creación de patentes</text></g>
<g id="g42"><rect class="gm" x="242" y="387" width="23" height="8" rx="1.5"/><text class="t" x="253.5" y="392.3">Hormonas</text></g>
<g id="g43"><rect class="gm" x="279" y="392" width="21" height="8" rx="1.5"/><text class="t" x="289.5" y="397.3">Vitaminas</text></g>
<g id="g44"><rect class="gb" x="202" y="387" width="31" height="7" rx="1.5"/><text class="t" x="217.5" y="391.8">Andrógenos</text></g>
<g id="g45"><rect class="gb" x="188" y="400" width="30" height="11" rx="1.5"/><text class="t" x="203" y="404.8">Andrógenos</text><text class="t" x="203" y="408.7">sintéticos</text></g>
<g id="g46"><rect class="gb" x="197" y="415" width="17" height="8" rx="1.5"/><text class="t" x="205.5" y="420.3">Insulina</text></g>
<g id="g47"><rect class="gb" x="193" y="429" width="23" height="13" rx="1.5"/><text class="t" x="204.5" y="434.8">Hormona del</text><text class="t" x="204.5" y="438.7">crecimiento</text></g>
<g id="g48"><rect class="gb" x="235" y="409" width="18" height="8" rx="1.5"/><text class="t" x="244" y="414.3">Estrógenos</text></g>
<g id="g49"><rect class="gb" x="220" y="420" width="25" height="7" rx="1.5"/><text class="t" x="232.5" y="424.8">Anticonceptivos</text></g>
<g id="g50"><rect class="gl" x="163" y="396" width="24" height="7" rx="1.5"/><text class="t" x="175" y="400.8">Aislamiento</text></g>
<g id="g51"><rect class="gl" x="138" y="406" width="34" height="7" rx="1.5"/><text class="t" x="155" y="410.8">Formas sintéticas</text></g>
<g id="g52"><rect class="gl" x="133" y="415" width="35" height="8" rx="1.5"/><text class="t" x="150.5" y="420.3">Estructura química</text></g>
<g id="g53"><rect class="gl" x="132" y="426" width="36" height="7" rx="1.5"/><text class="t" x="150" y="430.8">Causa de la diabetes</text></g>
<g id="g54"><rect class="gl" x="148" y="435" width="39" height="8" rx="1.5"/><text class="t" x="167.5" y="440.3">Función del páncreas</text></g>
<g id="g55"><rect class="gb" x="257" y="410" width="21" height="7" rx="1.5"/><text class="t" x="267.5" y="414.8">Vitamina C</text></g>
<g id="g56"><rect class="gb" x="281" y="416" width="16" height="7" rx="1.5"/><text class="t" x="289" y="420.8">Pelagra</text></g>
<g id="g57"><rect class="gb" x="306" y="408" width="22" height="7" rx="1.5"/><text class="t" x="317" y="412.8">Raquitismo</text></g>
<g id="g58"><rect class="gb" x="305" y="417" width="20" height="7" rx="1.5"/><text class="t" x="315" y="421.8">Escorbuto</text></g>
<g id="g59"><rect class="gb" x="292" y="428" width="24" height="12" rx="1.5"/><text class="t" x="304" y="433.2">Enfermedad</text><text class="t" x="304" y="437.1">carencial</text></g>
<g id="g60"><rect class="gb" x="257" y="423" width="23" height="12" rx="1.5"/><text class="t" x="268.5" y="428.2">Complejo B</text><text class="ts" x="268.5" y="432">(1926-1932)</text></g>
<g id="g61"><rect class="gl" x="229" y="445" width="24" height="12" rx="1.5"/><text class="t" x="241" y="450.2">Función de</text><text class="t" x="241" y="454.1">la vitamina</text></g>
<g id="g62"><rect class="gl" x="257" y="451" width="20" height="7" rx="1.5"/><text class="t" x="267" y="455.8">Vitamina A</text></g>
<g id="g63"><rect class="gl" x="282" y="447" width="18" height="7" rx="1.5"/><text class="t" x="291" y="451.8">Beriberi</text></g>
<g id="g64"><rect class="gl" x="256" y="468" width="24" height="12" rx="1.5"/><text class="t" x="268" y="473.2">Vitamina B</text><text class="t" x="268" y="477.1">deficiencia</text></g>

<g id="h0"><rect class="hp0" x="325" y="249" width="60" height="9" rx="1.5"/><text class="m" x="355" y="255.6" style="font-size:5px;fill:#1a0030">SITUACIÓN ACTUAL</text></g>
<g id="h1"><rect class="hp" x="255" y="193" width="30" height="8" rx="1.5"/><text class="t" x="270" y="198.3">Medicamentos</text></g>
<g id="h2"><rect class="hp" x="258" y="163" width="22" height="8" rx="1.5"/><text class="t" x="269" y="168.3">Genéricos</text></g>
<g id="h3"><rect class="mp" x="250" y="121" width="38" height="23" rx="1.8"/><text class="t" x="269" y="127.9">Uso de fármacos y</text><text class="t" x="269" y="131.8">uso racional de los</text><text class="t" x="269" y="135.7">medicamentos y</text><text class="t" x="269" y="139.6">productos sanitarios</text></g>
<g id="h4"><rect class="hp" x="190" y="163" width="44" height="8" rx="1.5"/><text class="t" x="212" y="168.3">Características clínicas</text></g>
<g id="h5"><rect class="lp" x="190" y="135" width="35" height="7" rx="1.5"/><text class="t" x="207.5" y="139.8">Farmacodinámica</text></g>
<g id="h6"><rect class="lp" x="173" y="148" width="26" height="7" rx="1.5"/><text class="t" x="186" y="152.8">Terapéuticas</text></g>
<g id="h7"><rect class="lp" x="217" y="148" width="30" height="7" rx="1.5"/><text class="t" x="232" y="152.8">Farmacocinéticas</text></g>
<g id="h8"><rect class="hp" x="118" y="163" width="50" height="8" rx="1.5"/><text class="t" x="143" y="168.3">Medicamentos de referencia</text></g>
<g id="h9"><rect class="lp" x="127" y="144" width="34" height="8" rx="1.5"/><text class="t" x="144" y="149.3">Patentes caducadas</text></g>
<g id="h10"><rect class="hp" x="225" y="193" width="22" height="8" rx="1.5"/><text class="t" x="236" y="198.3">Huérfanos</text></g>
<g id="h11"><rect class="hp" x="139" y="195" width="53" height="8" rx="1.5"/><text class="t" x="165.5" y="200.3">Enfermedades poco comunes</text></g>
<g id="h12"><rect class="lp" x="157" y="173" width="13" height="7" rx="1.5"/><text class="t" x="163.5" y="177.8">Tratar</text></g>
<g id="h13"><rect class="lp" x="127" y="183" width="23" height="8" rx="1.5"/><text class="t" x="138.5" y="188.3">Diagnosticar</text></g>
<g id="h14"><rect class="lp" x="180" y="183" width="17" height="8" rx="1.5"/><text class="t" x="188.5" y="188.3">Prevenir</text></g>
<g id="h15"><rect class="hp" x="91" y="197" width="22" height="7" rx="1.5"/><text class="t" x="102" y="201.8">Prevalencia</text></g>
<g id="h16"><rect class="hp" x="43" y="196" width="29" height="8" rx="1.5"/><text class="t" x="57.5" y="201.3">Ámbito Europeo</text></g>
<g id="h17"><rect class="lp" x="39" y="177" width="36" height="8" rx="1.5"/><text class="t" x="57" y="182.3">5/10.000 habitantes</text></g>
<g id="h18"><rect class="hp" x="144" y="207" width="60" height="8" rx="1.5"/><text class="t" x="174" y="212.3">Condiciones normales del mercado</text></g>
<g id="h19"><rect class="lp" x="100" y="217" width="22" height="8" rx="1.5"/><text class="t" x="111" y="222.3">Desarrollo</text></g>
<g id="h20"><rect class="lp" x="124" y="217" width="23" height="8" rx="1.5"/><text class="t" x="135.5" y="222.3">Producción</text></g>
<g id="h21"><rect class="hp" x="249" y="232" width="30" height="8" rx="1.5"/><text class="t" x="264" y="237.3">Multinacionales</text></g>
<g id="h22"><rect class="lp" x="253" y="209" width="25" height="7" rx="1.5"/><text class="t" x="265.5" y="213.8">Farmacéuticas</text></g>
<g id="h23"><rect class="lp" x="223" y="218" width="32" height="7" rx="1.5"/><text class="t" x="239" y="222.8">Subcontratación</text></g>
<g id="h24"><rect class="lp" x="273" y="219" width="22" height="7" rx="1.5"/><text class="t" x="284" y="223.8">Fusionadas</text></g>
<g id="h25"><rect class="lp" x="192" y="228" width="50" height="13" rx="1.5"/><text class="t" x="217" y="233.8">Pocas empresas concentran</text><text class="t" x="217" y="237.7">la mayoría de las ventas</text></g>
<g id="h26"><rect class="lp" x="143" y="232" width="20" height="7" rx="1.5"/><text class="t" x="153" y="236.8">Patentes</text></g>
<g id="h27"><rect class="lp" x="288" y="161" width="28" height="7" rx="1.5"/><text class="t" x="302" y="165.8">+1.000 millones $</text></g>
<g id="h28"><rect class="hp" x="291" y="179" width="21" height="13" rx="1.5"/><text class="t" x="301.5" y="184.8">Coste de</text><text class="t" x="301.5" y="188.7">producción</text></g>
<g id="h29"><rect class="hp" x="317" y="182" width="40" height="8" rx="1.5"/><text class="t" x="337" y="187.3">Tiempo de producción</text></g>
<g id="h30"><rect class="lp" x="326" y="160" width="22" height="8" rx="1.5"/><text class="t" x="337" y="165.3">10 - 12 años</text></g>
<g id="h31"><rect class="lp" x="322" y="140" width="32" height="7" rx="1.5"/><text class="t" x="338" y="144.8">Pacientes posibles</text></g>
<g id="h32"><rect class="hp" x="355" y="222" width="27" height="7" rx="1.5"/><text class="t" x="368.5" y="226.8">Alta inversión</text></g>
<g id="h33"><rect class="lp" x="341" y="204" width="26" height="8" rx="1.5"/><text class="t" x="354" y="209.3">Investigación</text></g>
<g id="h34"><rect class="lp" x="372" y="205" width="20" height="7" rx="1.5"/><text class="t" x="382" y="209.8">Desarrollo</text></g>
</svg>
